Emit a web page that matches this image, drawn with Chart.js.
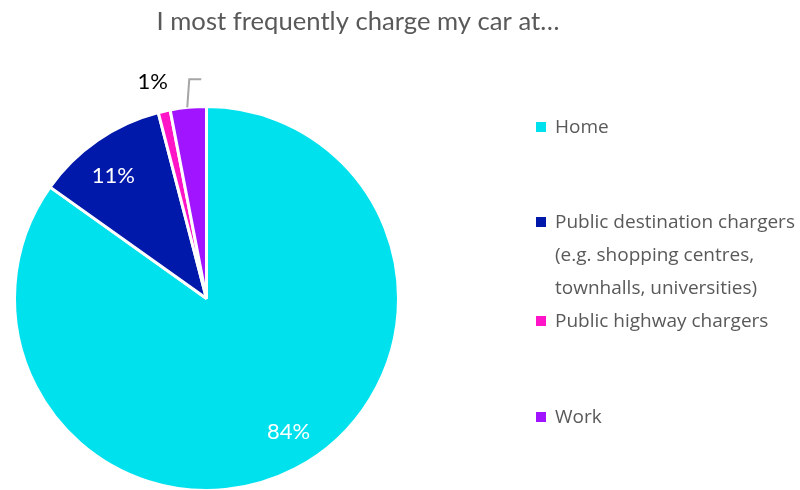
<!DOCTYPE html>
<html>
<head>
<meta charset="utf-8">
<script src="https://cdn.jsdelivr.net/npm/chart.js@4.4.1/dist/chart.umd.min.js"></script>
<style>
  html, body { margin: 0; padding: 0; background: #fff; overflow: hidden; }
  #wrap { position: relative; width: 800px; height: 490px; overflow: hidden; }
</style>
</head>
<body>
<div id="wrap"><canvas id="chargeChart" width="800" height="500"></canvas></div>
<script>
// Where drivers charge most often (share of respondents, %)
const titleText = 'I most frequently charge my car at…';
const categories = [
    'Home',
    'Public destination chargers\n(e.g. shopping centres,\ntownhalls, universities)',
    'Public highway chargers',
    'Work'
];
const shares = [84, 11, 1, 3];
const sliceColors = ['#00E1EE', '#0019AA', '#FF14C8', '#A014FF'];
// how each slice gets its value label
const labelModes = ['inside', 'inside', 'outside', 'leader'];

const TEXT_GREY = '#595959';

// Custom drawing: slice labels, legend and title
const annotatePlugin = {
    id: 'annotate',
    afterDraw(chart) {
        const ctx = chart.ctx;
        const meta = chart.getDatasetMeta(0);
        const nudge = [[10, -3], [-4, 4], [-5, 0], [0, 0]];
        ctx.save();

        meta.data.forEach((arc, i) => {
            const mid = (arc.startAngle + arc.endAngle) / 2;
            const dx = Math.cos(mid), dy = Math.sin(mid);
            const r = arc.outerRadius;
            const text = shares[i] + '%';
            ctx.textAlign = 'center';
            ctx.textBaseline = 'middle';
            ctx.font = '22px Lato';
            if (labelModes[i] === 'inside') {
                ctx.fillStyle = '#ffffff';
                ctx.fillText(text, arc.x + dx * r * 0.82 + nudge[i][0], arc.y + dy * r * 0.8 + nudge[i][1]);
            } else if (labelModes[i] === 'outside') {
                ctx.fillStyle = '#000000';
                ctx.fillText(text, arc.x + dx * (r + 30) + nudge[i][0], arc.y + dy * (r + 30) + nudge[i][1]);
            } else if (labelModes[i] === 'leader') {
                const x0 = arc.x + dx * r, y0 = arc.y + dy * r;
                ctx.strokeStyle = '#A6A6A6';
                ctx.lineWidth = 2;
                ctx.beginPath();
                ctx.moveTo(x0 - 1, y0);
                ctx.lineTo(x0 + 1, y0 - 28);
                ctx.lineTo(x0 + 13, y0 - 28);
                ctx.stroke();
            }
        });

        // legend
        const legendY = [127, 222, 321, 417];
        ctx.font = '19px "Open Sans"';
        ctx.textAlign = 'left';
        ctx.textBaseline = 'middle';
        categories.forEach((cat, i) => {
            ctx.fillStyle = sliceColors[i];
            ctx.fillRect(536, legendY[i] - 5, 10, 10);
            ctx.fillStyle = TEXT_GREY;
            cat.split('\n').forEach((line, j) => {
                ctx.fillText(line, 555, legendY[i] + 1 + j * 33);
            });
        });

        // title, squeezed to a narrow face
        ctx.font = '25px Lato';
        ctx.textAlign = 'center';
        ctx.fillStyle = TEXT_GREY;
        const w = ctx.measureText(titleText).width;
        ctx.translate(358, 22);
        ctx.scale(403 / w, 1);
        ctx.fillText(titleText, 0, 0);

        ctx.restore();
    }
};

new Chart(document.getElementById('chargeChart'), {
    type: 'pie',
    data: {
        labels: categories,
        datasets: [{
            data: shares,
            backgroundColor: sliceColors,
            borderColor: '#ffffff',
            borderWidth: 3
        }]
    },
    options: {
        responsive: false,
        animation: false,
        layout: { padding: { top: 105, bottom: 8, left: 13, right: 400 } },
        plugins: {
            legend: { display: false },
            title: { display: false },
            tooltip: { enabled: false }
        }
    },
    plugins: [annotatePlugin]
});
</script>
</body>
</html>
